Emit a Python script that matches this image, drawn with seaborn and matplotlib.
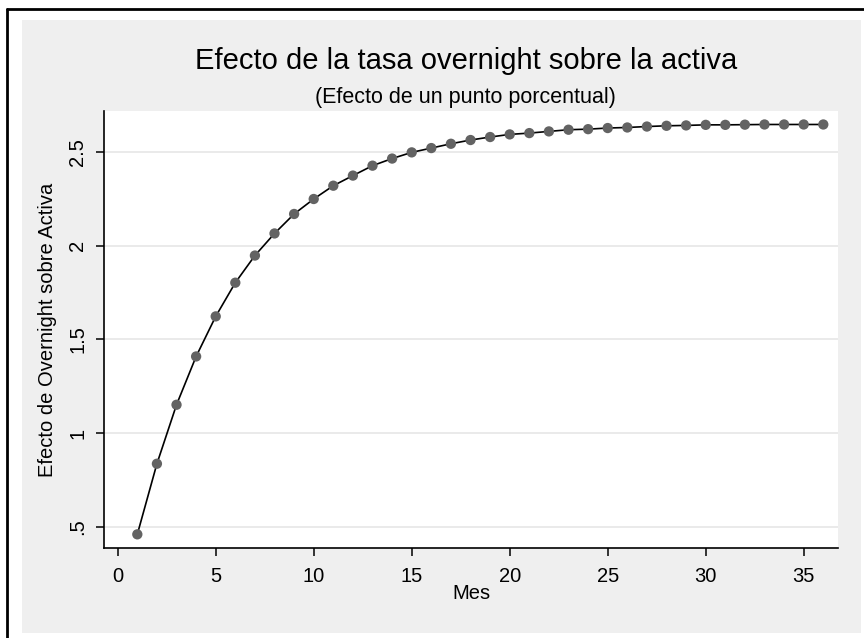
import matplotlib
matplotlib.use("Agg")
import matplotlib.pyplot as plt
import seaborn as sns
import pandas as pd
from matplotlib.patches import Rectangle
from matplotlib.lines import Line2D

# ---- data ----
mes = list(range(1, 37))
efecto = [0.459, 0.836, 1.151, 1.409, 1.623, 1.803, 1.948, 2.066, 2.170, 2.250,
          2.321, 2.375, 2.428, 2.466, 2.499, 2.522, 2.545, 2.565, 2.581, 2.595,
          2.602, 2.611, 2.620, 2.623, 2.629, 2.632, 2.637, 2.641, 2.643, 2.646,
          2.646, 2.647, 2.648, 2.648, 2.648, 2.648]
xticks = [0, 5, 10, 15, 20, 25, 30, 35]
xtick_labels = ["0", "5", "10", "15", "20", "25", "30", "35"]
yticks = [0.5, 1, 1.5, 2, 2.5]
ytick_labels = [".5", "1", "1.5", "2", "2.5"]
title = "Efecto de la tasa overnight sobre la activa"
subtitle = "(Efecto de un punto porcentual)"
xlabel = "Mes"
ylabel = "Efecto de Overnight sobre Activa"

df = pd.DataFrame({"Mes": mes, "Efecto": efecto})

sns.set_theme(style="white")
plt.rcParams["font.family"] = ["Liberation Sans", "DejaVu Sans"]

W, H = 864, 638
fig = plt.figure(figsize=(W / 100, H / 100), dpi=100)
fig.patch.set_facecolor("white")

# gray graph region
fig.add_artist(Rectangle((22 / W, 1 - 633 / H), (861 - 22) / W, (633 - 20) / H,
                         transform=fig.transFigure, facecolor="#efefef",
                         edgecolor="none", zorder=0))
# window border (top and left)
fig.add_artist(Line2D([7 / W, 7 / W], [0, 1 - 9 / H], transform=fig.transFigure,
                      color="black", lw=2))
fig.add_artist(Line2D([7 / W, 1], [1 - 9 / H, 1 - 9 / H], transform=fig.transFigure,
                      color="black", lw=2))

left, right, top, bottom = 104 / W, 838 / W, 111 / H, 548 / H
ax = fig.add_axes([left, 1 - bottom, right - left, bottom - top])
ax.set_facecolor("white")

sns.lineplot(data=df, x="Mes", y="Efecto", ax=ax, color="black", lw=1.2, zorder=3)
sns.scatterplot(data=df, x="Mes", y="Efecto", ax=ax, color="#636363", s=55,
                edgecolor="none", zorder=4)

ax.set_xlim(-0.70, 36.75)
ax.set_ylim(0.386, 2.72)
ax.set_xticks(xticks)
ax.set_xticklabels(xtick_labels, fontsize=14.5)
ax.set_yticks(yticks)
ax.set_yticklabels(ytick_labels, fontsize=14.5, rotation=90, va="center")
ax.yaxis.grid(True, color="#e6e6e6", lw=1.2)
ax.xaxis.grid(False)
ax.set_axisbelow(True)
for s in ["top", "right"]:
    ax.spines[s].set_visible(False)
for s in ["left", "bottom"]:
    ax.spines[s].set_color("black")
    ax.spines[s].set_linewidth(1.2)
ax.tick_params(axis="both", direction="out", length=6, width=1.1, color="black",
               labelcolor="black", bottom=True, left=True, pad=6)
ax.tick_params(axis="x", pad=8)
ax.set_xlabel(xlabel, fontsize=14.5, labelpad=-2, color="black")
ax.set_ylabel(ylabel, fontsize=14.5, labelpad=8, color="black")

fig.text(466 / W, 1 - 61 / H, title, ha="center", va="center", fontsize=21, color="black")
fig.text(465 / W, 1 - 97 / H, subtitle, ha="center", va="center", fontsize=15.5, color="black")

fig.savefig("out.png", dpi=100)
